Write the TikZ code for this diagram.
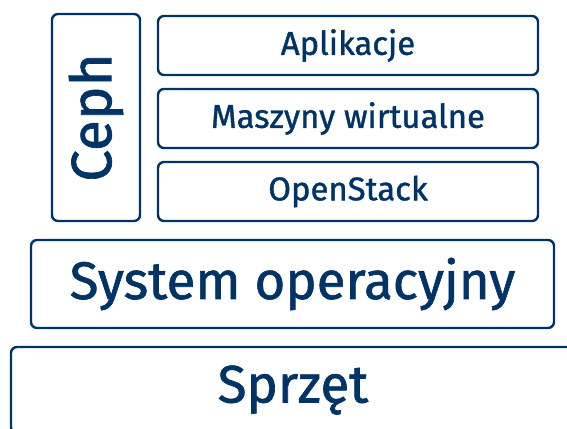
\documentclass[tikz,border=0pt]{standalone}
\usepackage{fontspec}
\setmainfont{Fira Sans}[FakeBold=1.2]
\usetikzlibrary{positioning}
\definecolor{cephblue}{RGB}{0,51,102}
\tikzset{
  layer/.style={draw=cephblue, line width=2.4bp, rounded corners=6bp, text=cephblue, inner sep=0pt, outer sep=0pt},
  small/.style={layer, minimum width=380bp, minimum height=59bp, font=\fontsize{33}{38}\selectfont},
  big/.style={layer, font=\fontsize{53}{60}\selectfont},
}

\begin{document}
\begin{tikzpicture}[x=1bp,y=-1bp]
        \useasboundingbox (0,0) rectangle (567,428);
        \clip (0,0) rectangle (567,428);
        % top stack
        \node[small] (apps) at (348,45.5) {Aplikacje};
        \node[small, below=14bp of apps] (vms) {Maszyny wirtualne};
        \node[small, below=14bp of vms] (openstack) {OpenStack};
        \node[big, rotate=90, minimum width=207bp, minimum height=88bp, font=\fontsize{57}{64}\selectfont] (ceph) at (96,117.5) {Ceph};
        % lower layers
        \node[big, minimum width=523bp, minimum height=88bp] (os) at (292.5,284) {System operacyjny};
        \node[big, minimum width=564bp, minimum height=86bp] (hw) at (293,390) {Sprzęt};
    \end{tikzpicture}
\end{document}
